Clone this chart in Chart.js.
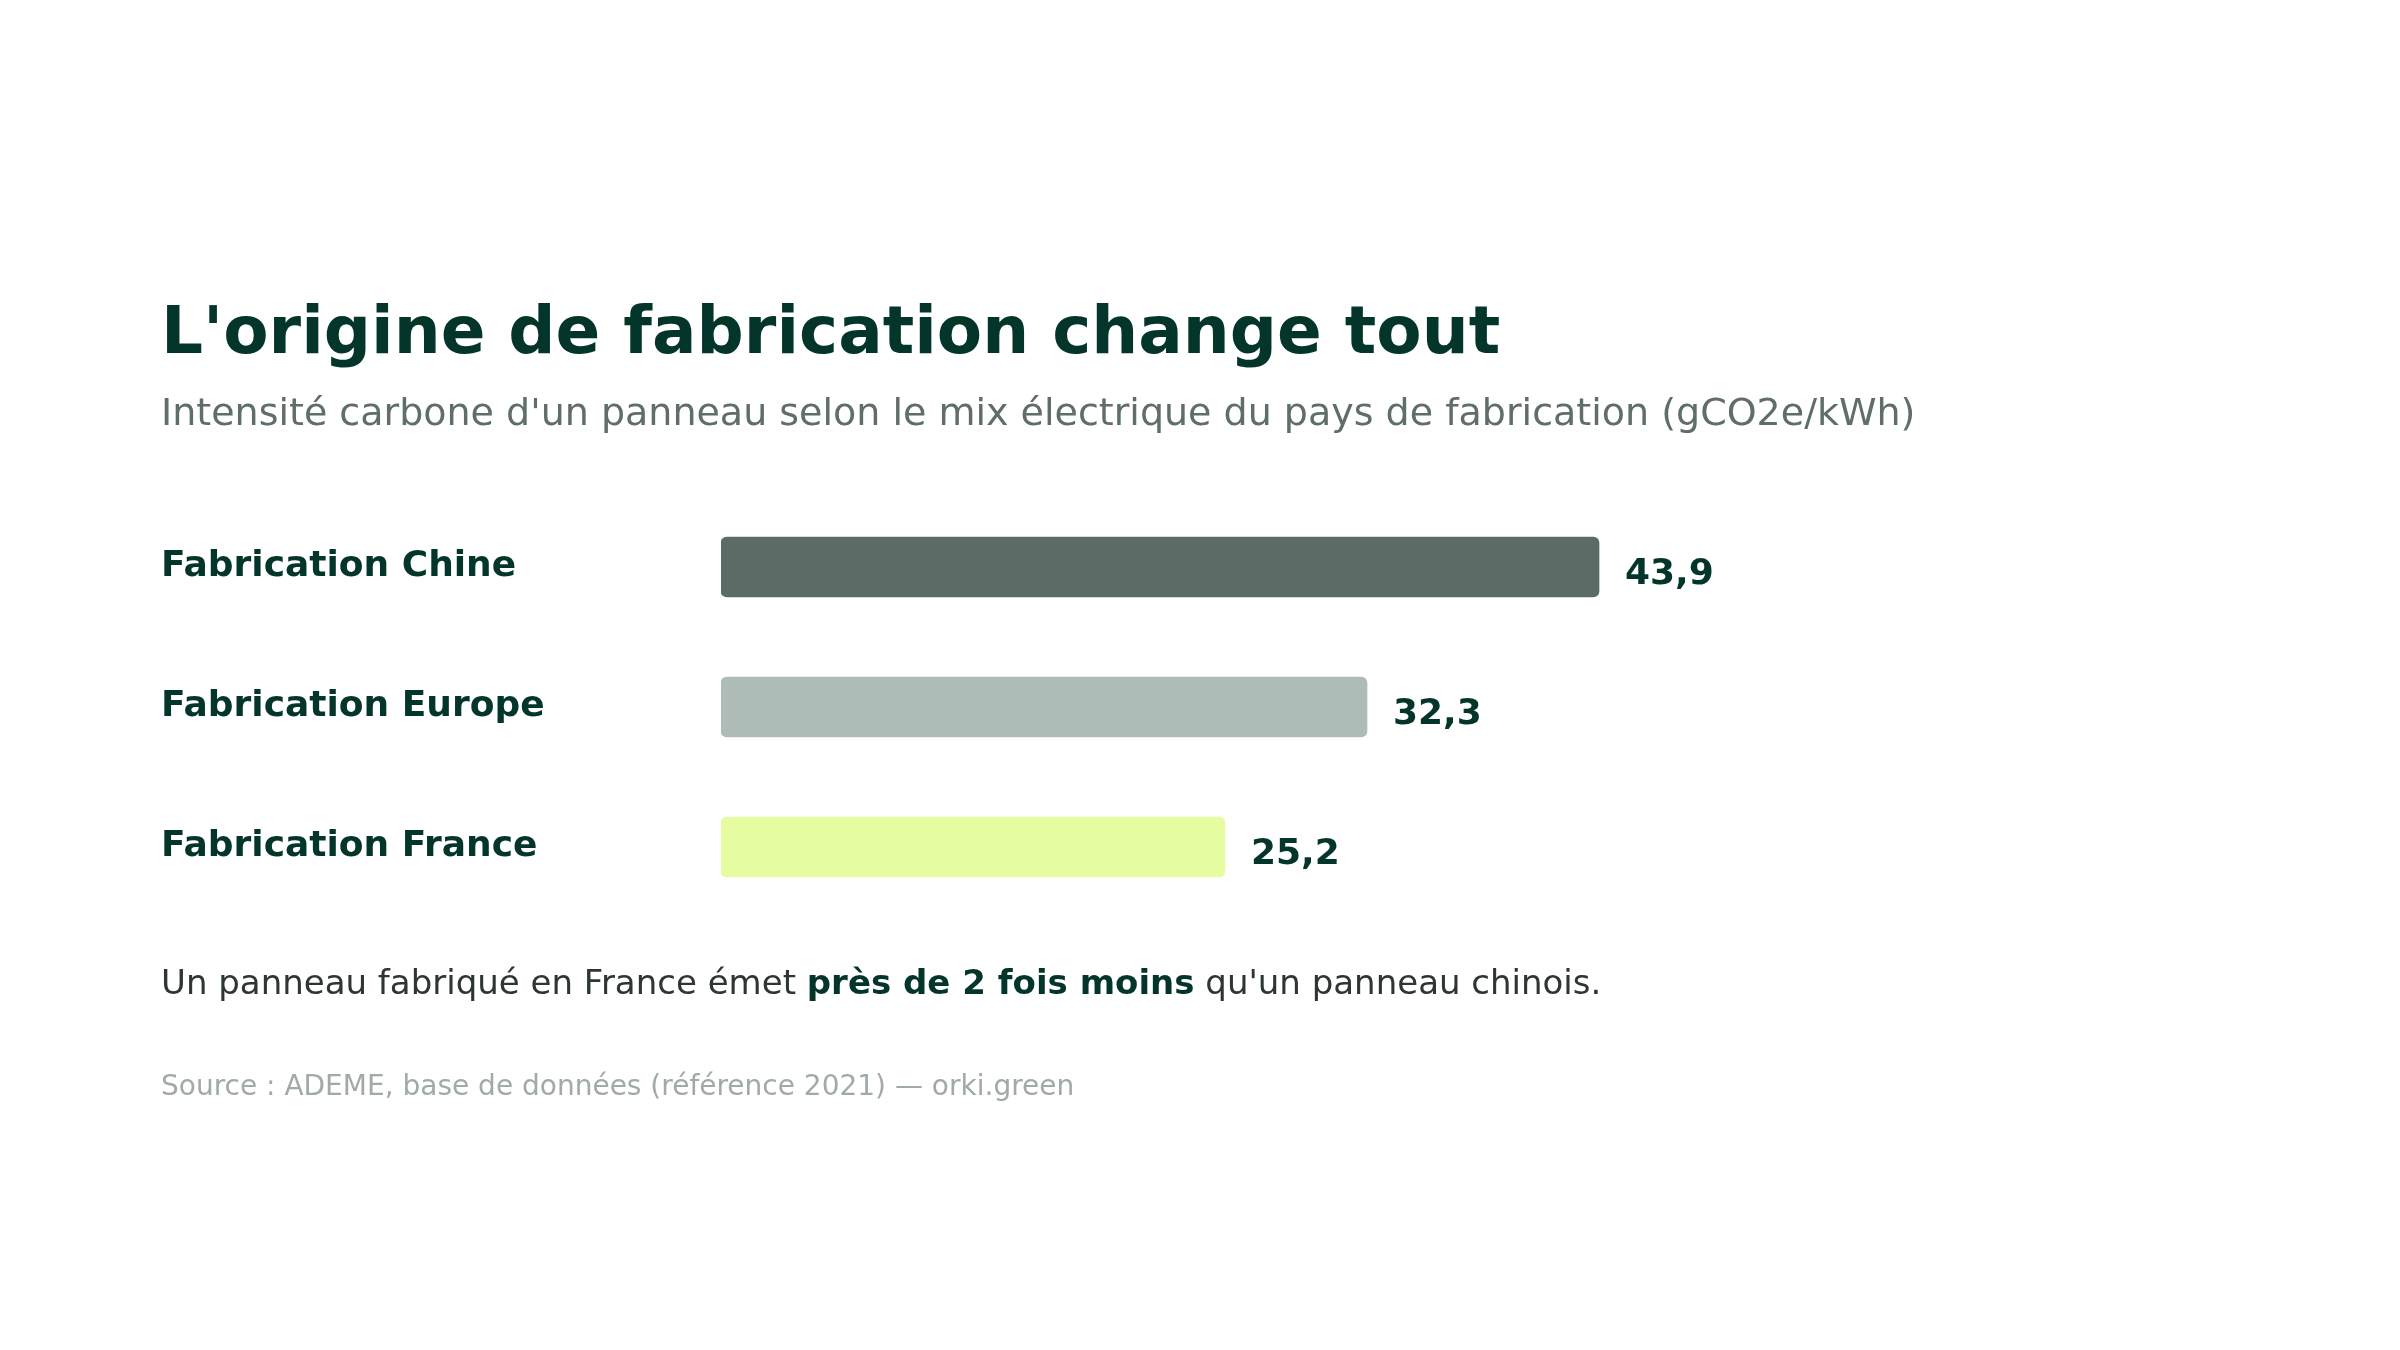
<!DOCTYPE html>
<html lang="fr">
<head>
<meta charset="utf-8">
<title>L'origine de fabrication change tout</title>
<script src="https://cdn.jsdelivr.net/npm/chart.js@4.4.1/dist/chart.umd.min.js"></script>
<style>
  html, body { margin: 0; padding: 0; background: #ffffff; }
  body { width: 2400px; height: 1350px; position: relative; overflow: hidden; font-family: "DejaVu Sans", sans-serif; }
  .txt { position: absolute; left: 161px; line-height: 1; white-space: nowrap; }
  #title { top: 298px; font-size: 66px; font-weight: bold; color: #04352a; }
  #subtitle { top: 393px; font-size: 38px; color: #5f6e69; }
  #note { top: 965px; font-size: 34px; color: #2d3632; }
  #note b { color: #04352a; }
  #source { top: 1072px; font-size: 28px; color: #a0aaa6; }
  #wrap { position: absolute; left: 0; top: 0; width: 2400px; height: 1350px; }
</style>
</head>
<body>
<div id="wrap"><canvas id="barChart" width="2400" height="1350"></canvas></div>
<div class="txt" id="title">L'origine de fabrication change tout</div>
<div class="txt" id="subtitle">Intensité carbone d'un panneau selon le mix électrique du pays de fabrication (gCO2e/kWh)</div>
<div class="txt" id="note">Un panneau fabriqué en France émet <b>près de 2 fois moins</b> qu'un panneau chinois.</div>
<div class="txt" id="source">Source : ADEME, base de données (référence 2021) — orki.green</div>

<script>
// Données
const categories = ['Fabrication Chine', 'Fabrication Europe', 'Fabrication France'];
const values = [43.9, 32.3, 25.2];
const valueLabels = ['43,9', '32,3', '25,2'];
const barColors = ['#5b6b65', '#aebcb7', '#e6fca1'];

// Étiquettes de valeur au bout des barres
const valueLabelPlugin = {
  id: 'valueLabels',
  afterDatasetsDraw(chart) {
    const ctx = chart.ctx;
    const meta = chart.getDatasetMeta(0);
    ctx.save();
    ctx.font = 'bold 36px "DejaVu Sans"';
    ctx.fillStyle = '#04352a';
    ctx.textAlign = 'left';
    ctx.textBaseline = 'alphabetic';
    meta.data.forEach((bar, i) => {
      ctx.fillText(valueLabels[i], bar.x + 26, bar.y + 17);
    });
    ctx.restore();
  }
};

const barChart = new Chart(document.getElementById('barChart').getContext('2d'), {
  type: 'bar',
  data: {
    labels: categories,
    datasets: [{
      data: values,
      backgroundColor: barColors,
      barThickness: 60,
      borderRadius: 6,
      borderSkipped: false
    }]
  },
  options: {
    indexAxis: 'y',
    responsive: false,
    animation: false,
    devicePixelRatio: 1,
    layout: { padding: { left: 161, top: 497, bottom: 433, right: 579 } },
    plugins: { legend: { display: false }, tooltip: { enabled: false } },
    scales: {
      x: { display: false, min: 0, max: 55 },
      y: {
        grid: { display: false },
        border: { display: false },
        afterFit: (scale) => { scale.width = 560; },
        ticks: {
          crossAlign: 'far',
          padding: 0,
          color: '#04352a',
          font: { family: 'DejaVu Sans', size: 36, weight: 'bold' }
        }
      }
    }
  },
  plugins: [valueLabelPlugin]
});
</script>
</body>
</html>
